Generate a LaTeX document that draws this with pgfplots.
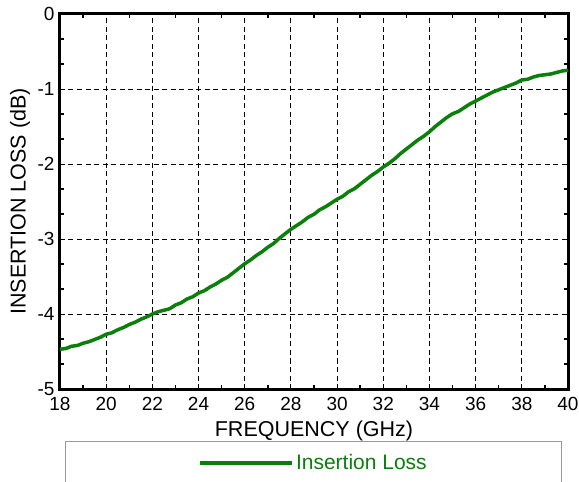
\documentclass[border=0pt]{standalone}
\usepackage{pgfplots}
\pgfplotsset{compat=1.18}
\usepackage{fontspec}
\setmainfont{Liberation Sans}
\definecolor{ilgreen}{RGB}{10,128,10}

\pgfplotstableread{
f il
18.00 -4.47
18.25 -4.46
18.50 -4.43
18.75 -4.42
19.00 -4.39
19.25 -4.37
19.50 -4.34
19.75 -4.31
20.00 -4.27
20.25 -4.25
20.50 -4.21
20.75 -4.18
21.00 -4.14
21.25 -4.11
21.50 -4.07
21.75 -4.04
22.00 -4.00
22.25 -3.97
22.50 -3.95
22.75 -3.93
23.00 -3.88
23.25 -3.85
23.50 -3.80
23.75 -3.77
24.00 -3.72
24.25 -3.69
24.50 -3.64
24.75 -3.60
25.00 -3.55
25.25 -3.51
25.50 -3.45
25.75 -3.39
26.00 -3.33
26.25 -3.28
26.50 -3.22
26.75 -3.17
27.00 -3.11
27.25 -3.06
27.50 -2.99
27.75 -2.93
28.00 -2.87
28.25 -2.82
28.50 -2.77
28.75 -2.71
29.00 -2.67
29.25 -2.61
29.50 -2.57
29.75 -2.52
30.00 -2.47
30.25 -2.43
30.50 -2.37
30.75 -2.33
31.00 -2.27
31.25 -2.21
31.50 -2.15
31.75 -2.10
32.00 -2.04
32.25 -1.99
32.50 -1.93
32.75 -1.86
33.00 -1.80
33.25 -1.74
33.50 -1.68
33.75 -1.63
34.00 -1.57
34.25 -1.50
34.50 -1.44
34.75 -1.38
35.00 -1.33
35.25 -1.30
35.50 -1.25
35.75 -1.20
36.00 -1.16
36.25 -1.12
36.50 -1.08
36.75 -1.04
37.00 -1.01
37.25 -0.98
37.50 -0.95
37.75 -0.92
38.00 -0.88
38.25 -0.87
38.50 -0.84
38.75 -0.82
39.00 -0.81
39.25 -0.80
39.50 -0.78
39.75 -0.76
40.00 -0.75
}\ildata

\begin{document}
\begin{tikzpicture}
\useasboundingbox (-60pt,-93pt) rectangle (519pt,389pt);
\begin{axis}[
    at={(0pt,0pt)}, anchor=south west,
    scale only axis,
    width=508pt, height=375pt,
    xmin=18, xmax=40, ymin=-5, ymax=0,
    xtick={18,20,...,40},
    ytick={-5,-4,...,0},
    minor x tick num=1,
    minor y tick num=2,
    tick align=inside,
    major tick length=0pt,
    minor tick length=4pt,
    tick style={black, line width=1.5pt},
    axis line style={line width=3pt},
    grid=major,
    major grid style={black, line width=0.9pt, dash pattern=on 5pt off 3.5pt},
    ticklabel style={font=\fontsize{19}{21}\selectfont},
    /pgf/number format/assume math mode=true,
    xticklabel style={yshift=-5pt},
    yticklabel style={xshift=-2pt},
    xlabel={FREQUENCY (GHz)},
    ylabel={INSERTION LOSS (dB)},
    label style={font=\fontsize{21.5}{24}\selectfont},
    xlabel style={at={(axis description cs:0.5,-0.112)}, anchor=center},
    ylabel style={at={(axis description cs:-0.0787,0.5)}, anchor=center},
    legend style={at={(5pt,-52pt)}, anchor=north west, draw=gray!80, line width=1pt,
        inner xsep=133pt, inner ysep=11pt,
        font=\fontsize{21}{23}\selectfont, text=ilgreen},
    legend cell align=left,
    legend image code/.code={\draw[#1, line width=3.5pt] (0pt,0pt) -- (92pt,0pt);},
]
\addplot[ilgreen, line width=3.5pt] table[x=f, y=il] {\ildata};
\addlegendentry{Insertion Loss}
\end{axis}
\end{tikzpicture}
\end{document}
